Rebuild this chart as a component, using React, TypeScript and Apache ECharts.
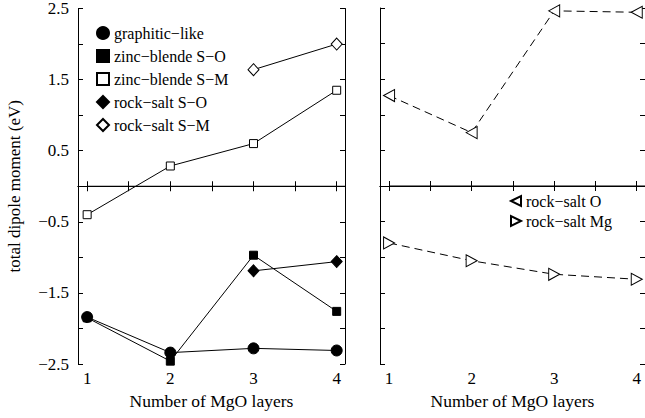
import React, { useEffect, useRef } from "react";
import * as echarts from "echarts";

const layers = [1, 2, 3, 4];
const graphiticLike = [-1.84, -2.34, -2.28, -2.31];
const zincBlendeSO = [-1.85, -2.46, -0.97, -1.76];
const zincBlendeSM = [-0.4, 0.285, 0.6, 1.35];
const rockSaltSO = [null, null, -1.19, -1.06];
const rockSaltSM = [null, null, 1.64, 2.0];
const rockSaltO = [1.27, 0.75, 2.46, 2.44];
const rockSaltMg = [-0.8, -1.05, -1.24, -1.31];
const zeroLineX = [1, 4.1];
const yLabelValues = [-2.5, -1.5, -0.5, 0.5, 1.5, 2.5];
const yTickValues = [-2.5, -2, -1.5, -1, -0.5, 0, 0.5, 1, 1.5, 2, 2.5];
const xTickValues = [1, 1.5, 2, 2.5, 3, 3.5, 4];
const xLabelValues = [1, 2, 3, 4];

const FONT = "'Liberation Serif', 'Times New Roman', serif";
const LEFT_TRI = "path://M0,6L12,0L12,12Z";
const RIGHT_TRI = "path://M12,6L0,0L0,12Z";

const pairs = (ys: (number | null)[]) =>
  layers.map((x, i) => [x, ys[i]]).filter((p) => p[1] !== null);

const fmt = (v: number) => {
  const s = v.toFixed(1);
  return s.startsWith("-") ? "\u2212" + s.slice(1) : s;
};

export default function App() {
  const ref = useRef<HTMLDivElement>(null);
  useEffect(() => {
    if (!ref.current) return;
    const chart = echarts.init(ref.current, null, { renderer: "svg" });
    const black = "#000";
    const filled = { color: black, borderColor: black, borderWidth: 1 };
    const open = { color: "#fff", borderColor: black, borderWidth: 1 };
    const solidLine = { color: black, width: 1 };
    const dashLine = { color: black, width: 1, type: [8, 5] };

    const xBottom = (gridIndex: number) => ({
      type: "value",
      gridIndex,
      min: 0.89,
      max: 4.1,
      position: "bottom",
      name: "Number of MgO layers",
      nameLocation: "middle",
      nameGap: 27,
      nameTextStyle: { fontFamily: FONT, fontSize: 17.5, color: black },
      axisLine: { show: true, lineStyle: { color: black, width: 1 } },
      axisTick: { show: true, inside: true, length: 5, customValues: xTickValues, lineStyle: { color: black } },
      axisLabel: { show: true, customValues: xLabelValues, margin: 6, fontFamily: FONT, fontSize: 17, color: black },
      splitLine: { show: false },
    });
    const xTop = (gridIndex: number) => ({
      type: "value",
      gridIndex,
      min: 0.89,
      max: 4.1,
      position: "top",
      axisLine: { show: true, lineStyle: { color: black, width: 1 } },
      axisTick: { show: true, inside: true, length: 5, customValues: xTickValues, lineStyle: { color: black } },
      axisLabel: { show: false },
      splitLine: { show: false },
    });
    const yLeft = (gridIndex: number, labels: boolean) => ({
      type: "value",
      gridIndex,
      min: -2.5,
      max: 2.5,
      position: "left",
      name: labels ? "total dipole moment (eV)" : "",
      nameLocation: "middle",
      nameGap: 55,
      nameTextStyle: { fontFamily: FONT, fontSize: 17, color: black },
      axisLine: { show: true, lineStyle: { color: black, width: 1 } },
      axisTick: { show: true, inside: true, length: 5, customValues: yTickValues, lineStyle: { color: black } },
      axisLabel: {
        show: labels,
        customValues: yLabelValues,
        margin: 9,
        fontFamily: FONT,
        fontSize: 17,
        color: black,
        formatter: (v: number) => fmt(v),
      },
      splitLine: { show: false },
    });
    const yRight = (gridIndex: number) => ({
      type: "value",
      gridIndex,
      min: -2.5,
      max: 2.5,
      position: "right",
      axisLine: { show: true, lineStyle: { color: black, width: 1 } },
      axisTick: { show: true, inside: true, length: 5, customValues: yTickValues, lineStyle: { color: black } },
      axisLabel: { show: false },
      splitLine: { show: false },
    });

    const lineSeries = (
      name: string,
      data: any[],
      symbol: string,
      symbolSize: any,
      itemStyle: any,
      lineStyle: any,
      panel: number
    ) => ({
      name,
      type: "line",
      xAxisIndex: panel * 2,
      yAxisIndex: panel * 2,
      data,
      symbol,
      symbolSize,
      showSymbol: true,
      itemStyle,
      lineStyle,
      z: 3,
    });

    chart.setOption({
      animation: false,
      backgroundColor: "#fff",
      textStyle: { fontFamily: FONT },
      grid: [
        { left: 78, top: 8, width: 267, height: 356 },
        { left: 380, top: 8, width: 268, height: 356 },
      ],
      xAxis: [xBottom(0), xTop(0), xBottom(1), xTop(1)],
      yAxis: [yLeft(0, true), yRight(0), yLeft(1, false), yRight(1)],
      legend: [
        {
          left: 96,
          top: 25,
          padding: 0,
          orient: "vertical",
          itemWidth: 12,
          itemHeight: 12,
          itemGap: 7,
          textStyle: { fontFamily: FONT, fontSize: 16, color: black },
          data: [
            { name: "graphitic\u2212like", icon: "circle" },
            { name: "zinc\u2212blende S\u2212O", icon: "rect" },
            { name: "zinc\u2212blende S\u2212M", icon: "rect" },
            { name: "rock\u2212salt S\u2212O", icon: "diamond" },
            { name: "rock\u2212salt S\u2212M", icon: "diamond" },
          ],
        },
        {
          left: 510,
          top: 193,
          padding: 0,
          orient: "vertical",
          itemWidth: 10,
          itemHeight: 11,
          itemGap: 4,
          textStyle: { fontFamily: FONT, fontSize: 16, color: black },
          data: [
            { name: "rock\u2212salt O", icon: LEFT_TRI },
            { name: "rock\u2212salt Mg", icon: RIGHT_TRI },
          ],
        },
      ],
      series: [
        {
          name: "zero0",
          type: "line",
          xAxisIndex: 0,
          yAxisIndex: 0,
          data: zeroLineX.map((x) => [x, 0]),
          symbol: "none",
          lineStyle: solidLine,
          z: 1,
        },
        {
          name: "zero1",
          type: "line",
          xAxisIndex: 2,
          yAxisIndex: 2,
          data: zeroLineX.map((x) => [x, 0]),
          symbol: "none",
          lineStyle: solidLine,
          z: 1,
        },
        lineSeries("graphitic\u2212like", pairs(graphiticLike), "circle", 11, filled, solidLine, 0),
        lineSeries("zinc\u2212blende S\u2212O", pairs(zincBlendeSO), "rect", 8, filled, solidLine, 0),
        lineSeries("zinc\u2212blende S\u2212M", pairs(zincBlendeSM), "rect", 8, open, solidLine, 0),
        lineSeries("rock\u2212salt S\u2212O", pairs(rockSaltSO), "diamond", [11, 12], filled, solidLine, 0),
        lineSeries("rock\u2212salt S\u2212M", pairs(rockSaltSM), "diamond", [11, 12], open, solidLine, 0),
        lineSeries("rock\u2212salt O", pairs(rockSaltO), LEFT_TRI, [11, 12], open, dashLine, 1),
        lineSeries("rock\u2212salt Mg", pairs(rockSaltMg), RIGHT_TRI, [11, 12], open, dashLine, 1),
      ],
    });
    return () => chart.dispose();
  }, []);
  return (
    <div
      ref={ref}
      style={{ position: "absolute", left: 0, top: 0, width: 645, height: 418, background: "#fff" }}
    />
  );
}
